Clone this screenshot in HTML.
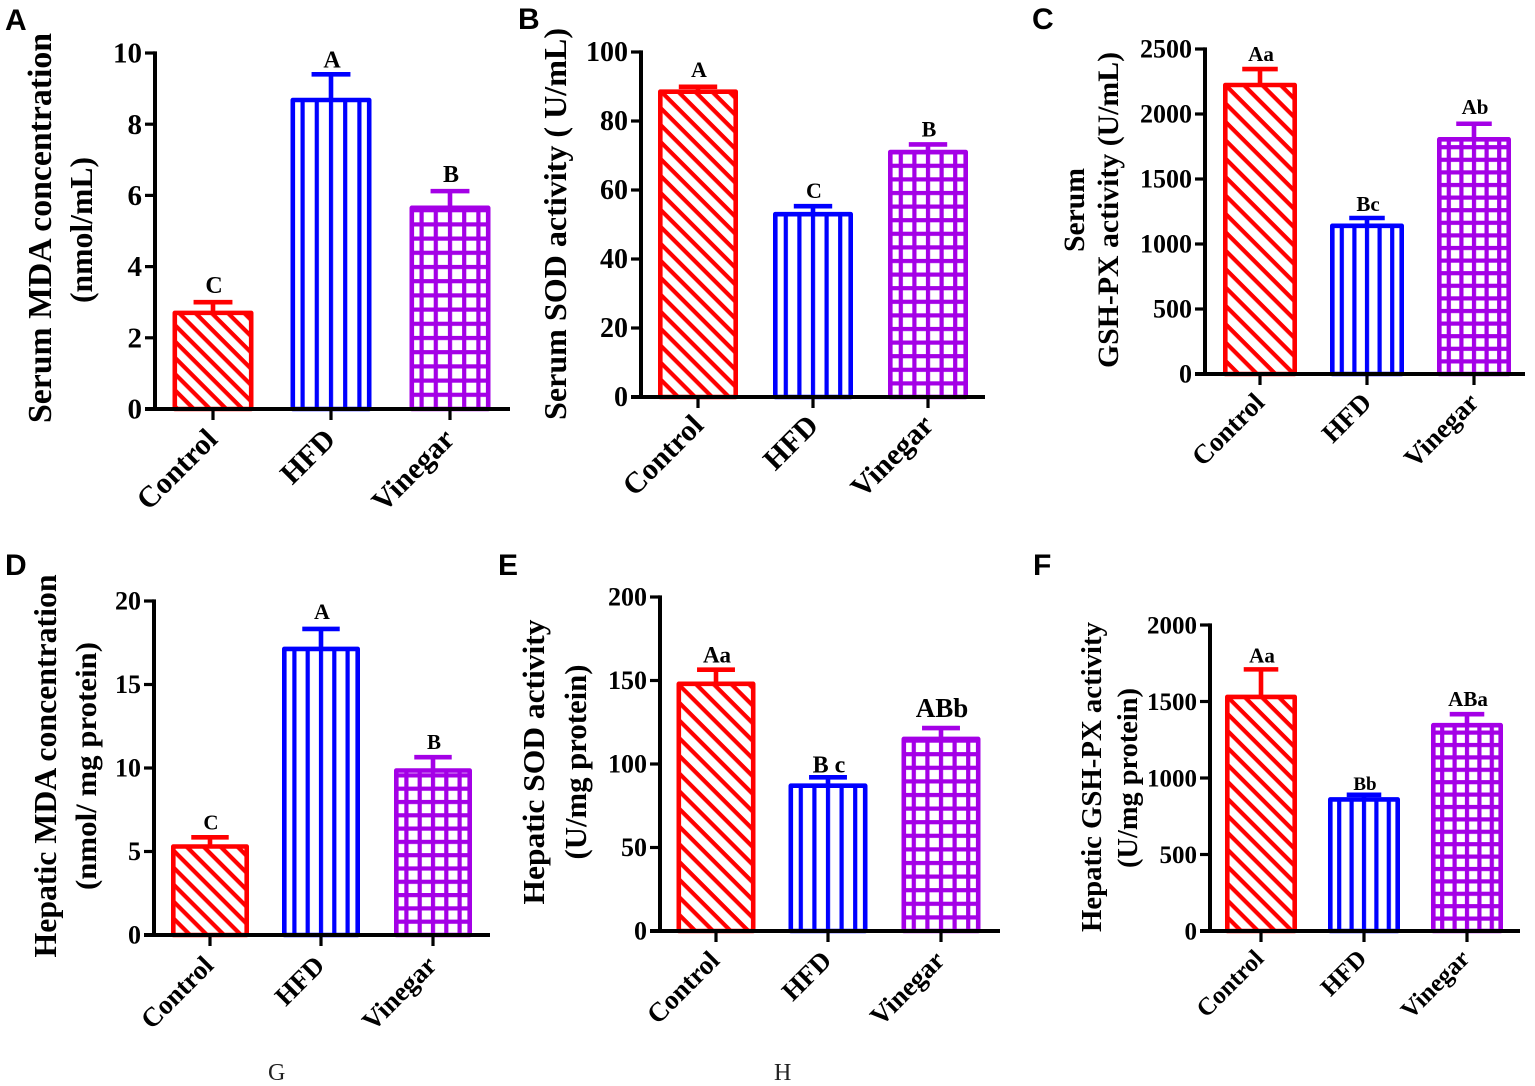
<!DOCTYPE html>
<html lang="en">
<head>
<meta charset="utf-8">
<title>Oxidative stress markers by treatment group</title>
<style>
html,body{margin:0;padding:0;background:#fff;}
body{width:1535px;height:1086px;overflow:hidden;}
svg{display:block;}
text{font-family:"Liberation Serif",serif;font-weight:bold;fill:#000;}
.letter{font-family:"Liberation Sans",sans-serif;font-size:30px;}
.foot{font-weight:normal;font-size:24px;fill:#222;}
</style>
</head>
<body>
<svg id="figure" xmlns="http://www.w3.org/2000/svg" width="1535" height="1086" viewBox="0 0 1535 1086">
  <rect width="1535" height="1086" fill="#fff"/>
  <defs id="defs"></defs>
  <text class="letter" x="5" y="30">A</text>
  <text class="letter" x="518" y="29">B</text>
  <text class="letter" x="1032" y="29">C</text>
  <text class="letter" x="5" y="575">D</text>
  <text class="letter" x="498" y="575">E</text>
  <text class="letter" x="1033" y="575">F</text>
  <text class="foot" x="268" y="1080">G</text>
  <text class="foot" x="774" y="1080">H</text>
</svg>
<script>
const categories = ["Control", "HFD", "Vinegar"];

const meansA = [2.7, 8.68, 5.65];
const errorsA = [0.3, 0.72, 0.47];
const lettersA = ["C", "A", "B"];
const ticksA = [0, 2, 4, 6, 8, 10];

const meansB = [88.5, 53, 71];
const errorsB = [1.4, 2.3, 2.2];
const lettersB = ["A", "C", "B"];
const ticksB = [0, 20, 40, 60, 80, 100];

const meansC = [2223, 1140, 1805];
const errorsC = [123, 60, 120];
const lettersC = ["Aa", "Bc", "Ab"];
const ticksC = [0, 500, 1000, 1500, 2000, 2500];

const meansD = [5.3, 17.13, 9.85];
const errorsD = [0.55, 1.2, 0.8];
const lettersD = ["C", "A", "B"];
const ticksD = [0, 5, 10, 15, 20];

const meansE = [148, 87, 115];
const errorsE = [8.5, 5, 6.5];
const lettersE = ["Aa", "B c", "ABb"];
const ticksE = [0, 50, 100, 150, 200];

const meansF = [1530, 860, 1345];
const errorsF = [180, 30, 72];
const lettersF = ["Aa", "Bb", "ABa"];
const ticksF = [0, 500, 1000, 1500, 2000];

const colors = ["#ff0000", "#0000ff", "#a400e6"];
const kinds = ["diag", "vert", "grid"];
const NS = "http://www.w3.org/2000/svg";
const svg = document.getElementById("figure");
const defs = document.getElementById("defs");

const panels = [
  {id:"a", means:meansA, errors:errorsA, letters:lettersA, ticks:ticksA, axisX:155, y0:409, yTop:53, xEnd:510, centers:[213,331,450], bw:81, tickFont:29, catFont:30, catOff:[6,32], letFonts:[24,24,24], letGaps:[9,7,9], diag:11.5, pitch:14.2,
   titles:[{t:"Serum MDA concentration", x:51, y:228, s:34, len:390},{t:"(nmol/mL)", x:92, y:230, s:32, len:146}]},
  {id:"b", means:meansB, errors:errorsB, letters:lettersB, ticks:ticksB, axisX:641, y0:397, yTop:52, xEnd:985, centers:[698,813,928], bw:80, tickFont:28, catFont:30, catOff:[7,30], letFonts:[22,22,22], letGaps:[10,8,8], diag:12, pitch:13.6,
   titles:[{t:"Serum SOD activity ( U/mL)", x:566, y:224, s:32, len:392}]},
  {id:"c", means:meansC, errors:errorsC, letters:lettersC, ticks:ticksC, axisX:1205, y0:374, yTop:49, xEnd:1525, centers:[1260,1367,1474], bw:74, tickFont:26, catFont:27, catOff:[6,30], letFonts:[21,21,21], letGaps:[8,7,10], diag:13, pitch:12.6,
   titles:[{t:"Serum", x:1084, y:210, s:30, len:84},{t:"GSH-PX activity (U/mL)", x:1118, y:210, s:30, len:316}]},
  {id:"d", means:meansD, errors:errorsD, letters:lettersD, ticks:ticksD, axisX:154, y0:935, yTop:601, xEnd:490, centers:[210,321,433], bw:78, tickFont:26, catFont:27, catOff:[5,32], letFonts:[21,22,21], letGaps:[8,10,8], diag:12, pitch:13.3,
   titles:[{t:"Hepatic MDA concentration", x:56, y:766, s:32, len:383},{t:"(nmol/ mg protein)", x:96, y:766, s:30, len:248}]},
  {id:"e", means:meansE, errors:errorsE, letters:lettersE, ticks:ticksE, axisX:660, y0:931, yTop:597, xEnd:1000, centers:[716,828,941], bw:79, tickFont:26, catFont:27, catOff:[5,31], letFonts:[23,24,27], letGaps:[7,5,11], diag:12.5, pitch:13.6,
   titles:[{t:"Hepatic SOD activity", x:544, y:762, s:31, len:285},{t:"(U/mg protein)", x:586, y:762, s:31, len:195}]},
  {id:"f", means:meansF, errors:errorsF, letters:lettersF, ticks:ticksF, axisX:1210, y0:931, yTop:625, xEnd:1520, centers:[1261,1364,1467], bw:72, tickFont:25, catFont:25, catOff:[4,29], letFonts:[21,19,21], letGaps:[7,5,8], diag:12, pitch:12.4,
   titles:[{t:"Hepatic GSH-PX activity", x:1101, y:777, s:29, len:310},{t:"(U/mg protein)", x:1137, y:778, s:28, len:180}]}
];

function mk(tag, attrs, parent) {
  const node = document.createElementNS(NS, tag);
  for (const k in attrs) node.setAttribute(k, attrs[k]);
  parent.appendChild(node);
  return node;
}

function makePattern(pid, kind, color, cx, baseY, pitch, perp) {
  const lw = 4.2;
  let pat;
  if (kind === "diag") {
    pat = mk("pattern", {id:pid, patternUnits:"userSpaceOnUse", width:perp, height:perp,
      patternTransform:"translate(" + cx + " " + baseY + ") rotate(45)"}, defs);
    mk("rect", {x:0, y:0, width:perp, height:perp, fill:"#fff"}, pat);
    mk("rect", {x:0, y:0, width:perp, height:4.2, fill:color}, pat);
  } else if (kind === "vert") {
    pat = mk("pattern", {id:pid, patternUnits:"userSpaceOnUse", width:pitch, height:pitch,
      patternTransform:"translate(" + (cx - lw / 2) + " 0)"}, defs);
    mk("rect", {x:0, y:0, width:pitch, height:pitch, fill:"#fff"}, pat);
    mk("rect", {x:0, y:0, width:lw, height:pitch, fill:color}, pat);
  } else {
    pat = mk("pattern", {id:pid, patternUnits:"userSpaceOnUse", width:pitch, height:pitch,
      patternTransform:"translate(" + (cx - lw / 2) + " " + (baseY - lw / 2) + ")"}, defs);
    mk("rect", {x:0, y:0, width:pitch, height:pitch, fill:"#fff"}, pat);
    mk("rect", {x:0, y:0, width:lw, height:pitch, fill:color}, pat);
    mk("rect", {x:0, y:0, width:pitch, height:lw, fill:color}, pat);
  }
}

panels.forEach(function (p) {
  const g = mk("g", {}, svg);
  
  

  const maxV = p.ticks[p.ticks.length - 1];
  const yScale = function (v) { return p.y0 - (v / maxV) * (p.y0 - p.yTop); };
  const xScale = function (i) { return p.centers[i]; };
  const sw = 4.6;

  categories.forEach(function (cat, i) {
    const cx = xScale(i);
    const top = yScale(p.means[i]);
    const color = colors[i];
    const errTop = yScale(p.means[i] + p.errors[i]);
    const capW = p.bw * 0.48;

    const stem = mk("line", {x1:cx, x2:cx, y1:top, y2:errTop, stroke:color, "stroke-width":sw}, g);
    
    

    const cap = mk("line", {x1:cx - capW / 2, x2:cx + capW / 2, y1:errTop, y2:errTop, stroke:color, "stroke-width":sw}, g);
    
    

    const pid = "pat-" + p.id + "-" + i;
    makePattern(pid, kinds[i], color, cx, p.y0, p.pitch, p.diag);
    const bar = mk("rect", {x:cx - p.bw / 2 + sw / 2, y:top, width:p.bw - sw, height:p.y0 - top,
      fill:"url(#" + pid + ")", stroke:color, "stroke-width":sw, "stroke-linejoin":"round"}, g);
    
    

    const sig = mk("text", {x:cx + 1, y:errTop - p.letGaps[i], "text-anchor":"middle", "font-size":p.letFonts[i]}, g);
    sig.textContent = p.letters[i];
    
    

    const tick = mk("line", {x1:cx, x2:cx, y1:p.y0, y2:p.y0 + 11, stroke:"#000", "stroke-width":3.2}, g);
    
    

    const lx = cx + p.catOff[0];
    const ly = p.y0 + p.catOff[1];
    const lab = mk("text", {x:lx, y:ly, "text-anchor":"end", "font-size":p.catFont,
      transform:"rotate(-45 " + lx + " " + ly + ")"}, g);
    lab.textContent = cat;
    
    
  });

  p.ticks.forEach(function (t) {
    const y = yScale(t);
    const tk = mk("line", {x1:p.axisX - 10, x2:p.axisX, y1:y, y2:y, stroke:"#000", "stroke-width":3.2}, g);
    
    

    const lb = mk("text", {x:p.axisX - 13, y:y + p.tickFont * 0.33, "text-anchor":"end", "font-size":p.tickFont}, g);
    lb.textContent = t;
    
    
  });

  const yAxis = mk("line", {x1:p.axisX, x2:p.axisX, y1:p.yTop - 1.6, y2:p.y0 + 2, stroke:"#000", "stroke-width":4}, g);
  
  

  const xAxis = mk("line", {x1:p.axisX - 10, x2:p.xEnd, y1:p.y0, y2:p.y0, stroke:"#000", "stroke-width":4}, g);
  
  

  p.titles.forEach(function (tt, idx) {
    const yt = mk("text", {x:tt.x, y:tt.y, "text-anchor":"middle", "font-size":tt.s,
      textLength:tt.len, lengthAdjust:"spacingAndGlyphs",
      transform:"rotate(-90 " + tt.x + " " + tt.y + ")"}, g);
    yt.textContent = tt.t;
    
    
  });
});
</script>
</body>
</html>
